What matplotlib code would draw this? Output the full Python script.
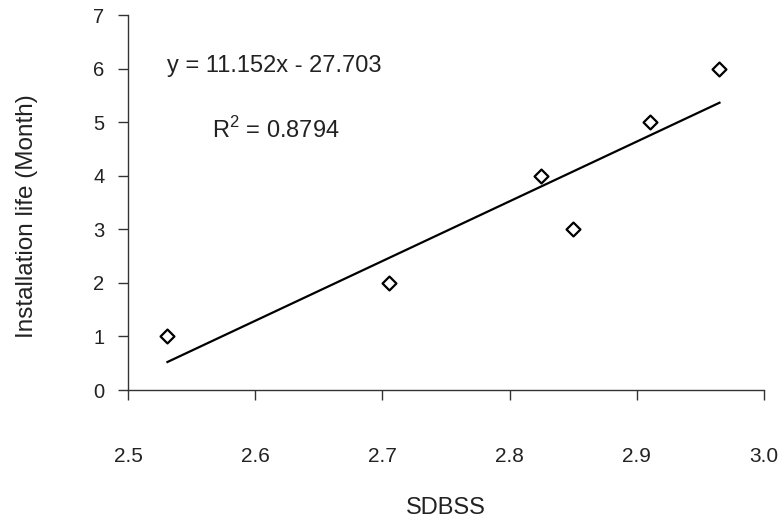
import numpy as np
import matplotlib.pyplot as plt

plt.rcParams['font.family'] = ['Liberation Sans', 'DejaVu Sans']
plt.rcParams['mathtext.fontset'] = 'custom'
plt.rcParams['mathtext.rm'] = 'Liberation Sans'

# data
sdbss = [2.531, 2.705, 2.825, 2.850, 2.910, 2.965]
life = [1, 2, 4, 3, 5, 6]
slope = 11.152
intercept = -27.703
x_ticks = [2.5, 2.6, 2.7, 2.8, 2.9, 3.0]
y_ticks = [0, 1, 2, 3, 4, 5, 6, 7]

txt = '#222222'

fig = plt.figure(figsize=(7.82, 5.23), dpi=100)
ax = fig.add_axes([0.1637, 0.2543, 0.8133, 0.717])

ax.scatter(sdbss, life, marker='D', s=50, facecolors='white',
           edgecolors='black', linewidths=1.6, zorder=3)
fit_x = np.array([min(sdbss), max(sdbss)])
ax.plot(fit_x, slope * fit_x + intercept, color='black', lw=1.6)

ax.set_xlim(2.5, 3.0)
ax.set_ylim(0, 7)
ax.set_xticks(x_ticks)
ax.set_xticklabels([f'{v:.1f}' for v in x_ticks])
ax.set_yticks(y_ticks)
for s in ['top', 'right']:
    ax.spines[s].set_visible(False)
for s in ['left', 'bottom']:
    ax.spines[s].set_color('#333333')
    ax.spines[s].set_linewidth(1.0)
ax.tick_params(axis='x', direction='out', length=7, width=1.0, pad=34,
               labelsize=15, labelcolor=txt, color='#333333')
ax.tick_params(axis='y', direction='out', length=7, width=1.0, pad=10,
               labelsize=14.5, labelcolor=txt, color='#333333')

ax.set_xlabel('SDBSS', fontsize=17, labelpad=22, color=txt)
ax.set_ylabel('Installation life (Month)', fontsize=17.5, color=txt)
ax.yaxis.set_label_coords(-0.142, 0.464)

ax.text(2.531, 6.05, 'y = 11.152x - 27.703', fontsize=17, va='center', color=txt)
ax.text(2.566, 4.85, r'R$^\mathrm{2}$ = 0.8794', fontsize=17, va='center', color=txt)

fig.savefig('out.png', dpi=100)
